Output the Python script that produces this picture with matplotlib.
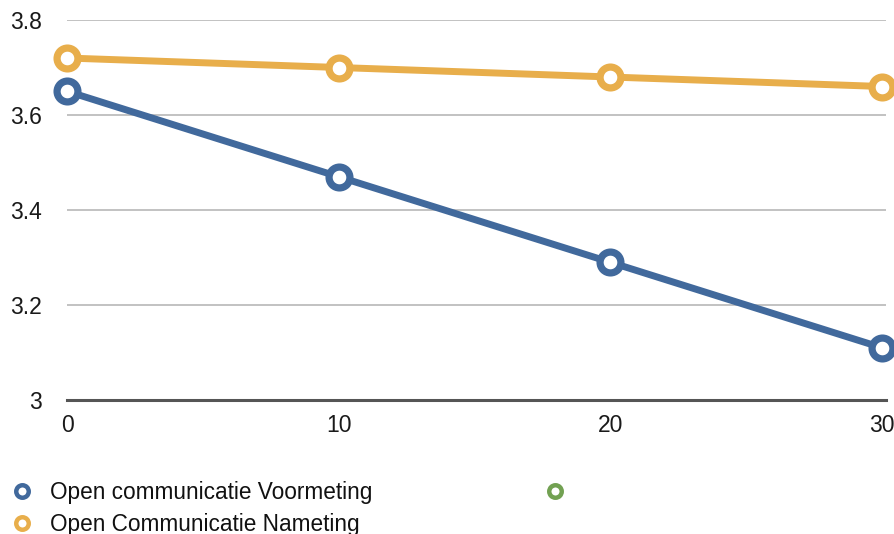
import matplotlib
matplotlib.use("Agg")
import matplotlib.pyplot as plt
from matplotlib.lines import Line2D

plt.rcParams['font.family'] = ['Liberation Sans', 'DejaVu Sans']

x_values = [0, 10, 20, 30]
voormeting = [3.65, 3.47, 3.29, 3.11]
nameting = [3.72, 3.70, 3.68, 3.66]
series_labels = ["Open communicatie Voormeting", "Open Communicatie Nameting", ""]
y_ticks = [3.0, 3.2, 3.4, 3.6, 3.8]
y_tick_labels = ["3", "3.2", "3.4", "3.6", "3.8"]
x_tick_labels = ["0", "10", "20", "30"]

blue = "#41699c"
orange = "#e8ae4b"
green = "#72a152"

W, H = 894, 534
fig = plt.figure(figsize=(W / 100, H / 100), dpi=100)
ax = fig.add_axes([67 / W, (H - 400) / H, (886 - 67) / W, 380 / H])

for vals, col in [(voormeting, blue), (nameting, orange)]:
    ax.plot(x_values, vals, color=col, lw=5, marker='o', ms=15,
            mfc='white', mec=col, mew=5.2, clip_on=False, zorder=3,
            solid_capstyle='round')

ax.set_xlim(0, 30.15)
ax.set_ylim(3.0, 3.8)
ax.set_yticks(y_ticks)
ax.set_yticklabels(y_tick_labels)
ax.set_xticks(x_values)
ax.set_xticklabels(x_tick_labels)

for y in y_ticks[1:]:
    ax.axhline(y, color='#bdbdbd', lw=1.3, zorder=1)

for s in ['top', 'right', 'left']:
    ax.spines[s].set_visible(False)
ax.spines['bottom'].set_color('#555555')
ax.spines['bottom'].set_linewidth(2.2)

ax.tick_params(axis='y', length=0, pad=18, labelsize=16.5, colors='#1a1a1a')
ax.tick_params(axis='x', length=0, pad=10, labelsize=16.5, colors='#1a1a1a')

handles = [Line2D([], [], ls='none', marker='o', ms=9, mfc='white', mec=c, mew=3.2)
           for c in (blue, orange, green)]
fig.legend(handles, series_labels, loc='upper left', ncol=2, frameon=False,
           bbox_to_anchor=(13 / W, 1 - 481 / H), borderpad=0, borderaxespad=0,
           handlelength=0.8, handletextpad=0.85, labelspacing=0.38,
           columnspacing=7.65, fontsize=16.3, labelcolor='#111111')

fig.savefig("out.png", dpi=100)
